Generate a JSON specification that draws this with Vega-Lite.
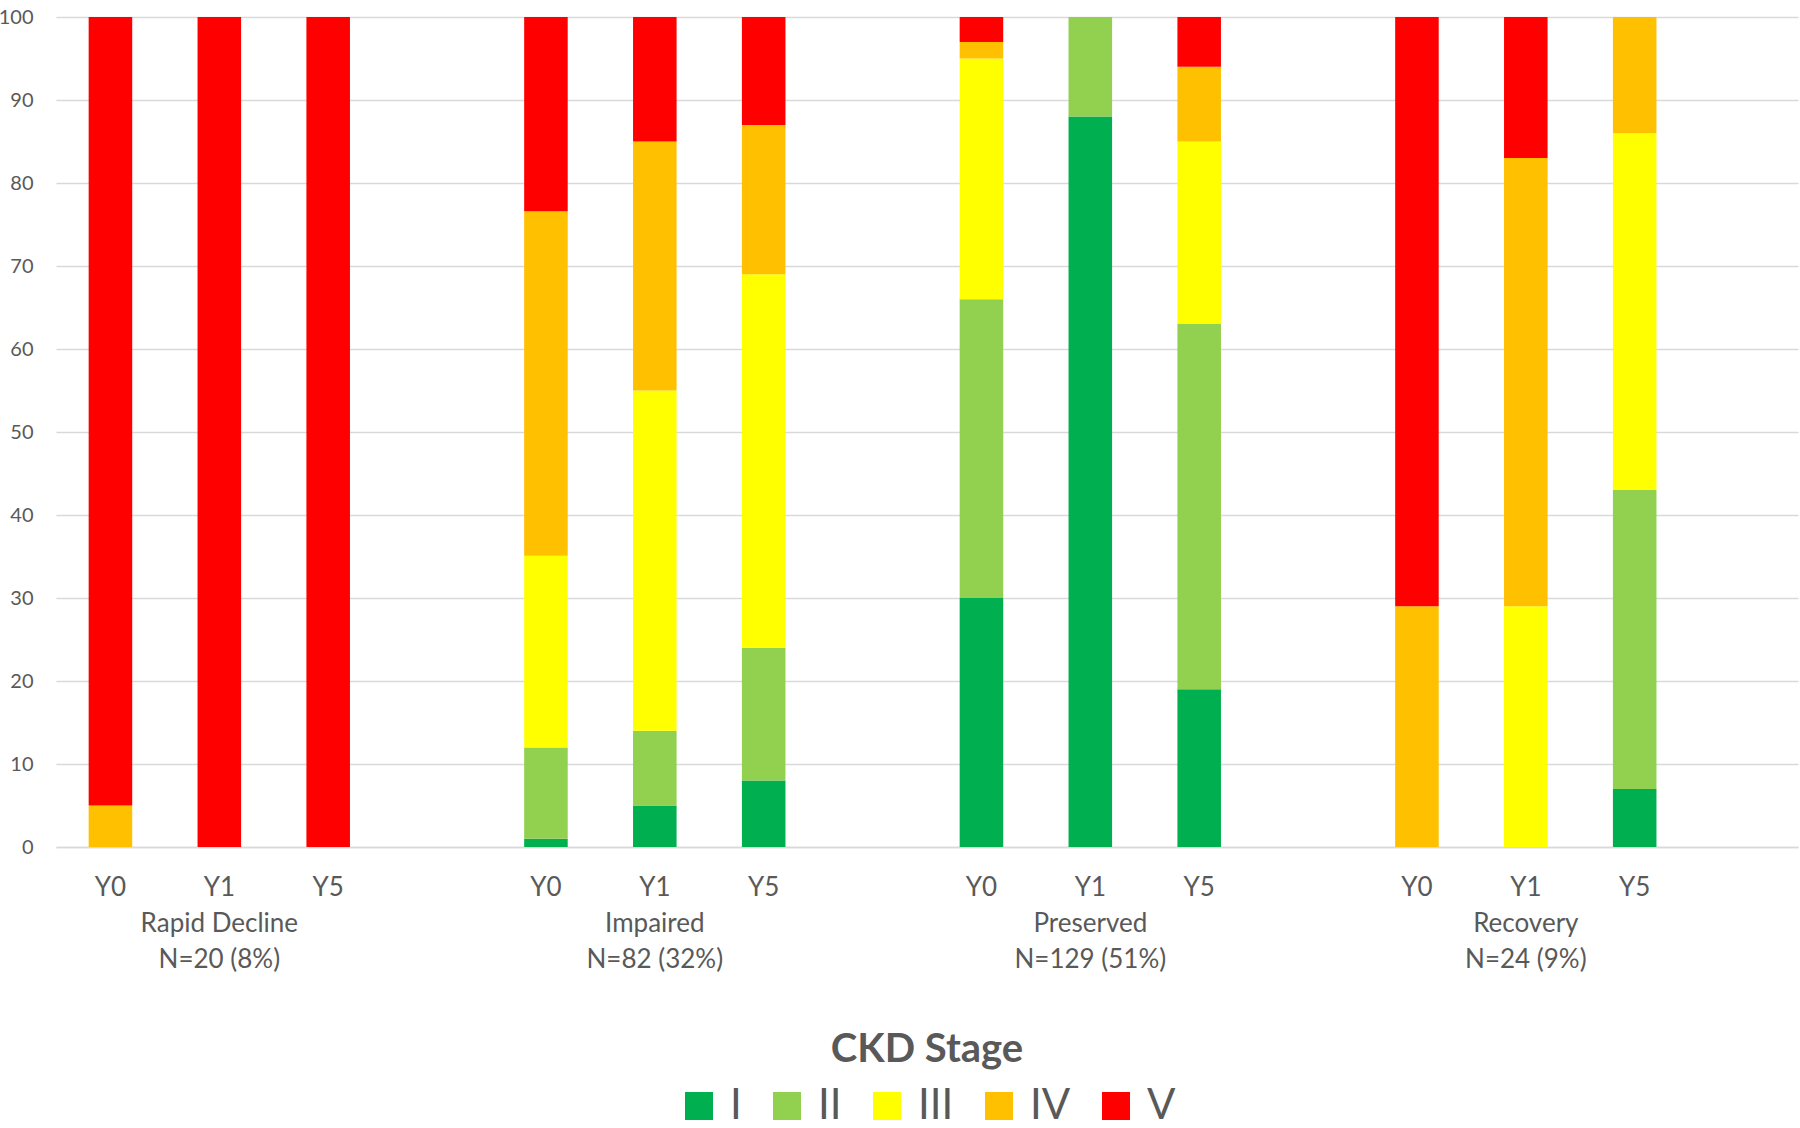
{
  "$schema": "https://vega.github.io/schema/vega-lite/v6.json",
  "width": 1742,
  "height": 830,
  "autosize": {"type": "none"},
  "padding": {"left": 56, "top": 17, "right": 2, "bottom": 281},
  "background": "white",
  "config": {
    "view": {"stroke": null},
    "font": "Lato",
    "axis": {"labelColor": "#595959", "labelFont": "Lato"},
    "legend": {"layout": {"bottom": {"anchor": "middle"}}}
  },
  "data": {
    "values": [
      {"slot": "1_Y0", "stage": "IV", "value": 5},
      {"slot": "1_Y0", "stage": "V", "value": 95},
      {"slot": "1_Y1", "stage": "V", "value": 100},
      {"slot": "1_Y5", "stage": "V", "value": 100},
      {"slot": "2_Y0", "stage": "I", "value": 1},
      {"slot": "2_Y0", "stage": "II", "value": 11},
      {"slot": "2_Y0", "stage": "III", "value": 23.1},
      {"slot": "2_Y0", "stage": "IV", "value": 41.5},
      {"slot": "2_Y0", "stage": "V", "value": 23.4},
      {"slot": "2_Y1", "stage": "I", "value": 5},
      {"slot": "2_Y1", "stage": "II", "value": 9},
      {"slot": "2_Y1", "stage": "III", "value": 41},
      {"slot": "2_Y1", "stage": "IV", "value": 30},
      {"slot": "2_Y1", "stage": "V", "value": 15},
      {"slot": "2_Y5", "stage": "I", "value": 8},
      {"slot": "2_Y5", "stage": "II", "value": 16},
      {"slot": "2_Y5", "stage": "III", "value": 45},
      {"slot": "2_Y5", "stage": "IV", "value": 18},
      {"slot": "2_Y5", "stage": "V", "value": 13},
      {"slot": "3_Y0", "stage": "I", "value": 30},
      {"slot": "3_Y0", "stage": "II", "value": 36},
      {"slot": "3_Y0", "stage": "III", "value": 29},
      {"slot": "3_Y0", "stage": "IV", "value": 2},
      {"slot": "3_Y0", "stage": "V", "value": 3},
      {"slot": "3_Y1", "stage": "I", "value": 88},
      {"slot": "3_Y1", "stage": "II", "value": 12},
      {"slot": "3_Y5", "stage": "I", "value": 19},
      {"slot": "3_Y5", "stage": "II", "value": 44},
      {"slot": "3_Y5", "stage": "III", "value": 22},
      {"slot": "3_Y5", "stage": "IV", "value": 9},
      {"slot": "3_Y5", "stage": "V", "value": 6},
      {"slot": "4_Y0", "stage": "IV", "value": 29},
      {"slot": "4_Y0", "stage": "V", "value": 71},
      {"slot": "4_Y1", "stage": "III", "value": 29},
      {"slot": "4_Y1", "stage": "IV", "value": 54},
      {"slot": "4_Y1", "stage": "V", "value": 17},
      {"slot": "4_Y5", "stage": "I", "value": 7},
      {"slot": "4_Y5", "stage": "II", "value": 36},
      {"slot": "4_Y5", "stage": "III", "value": 43},
      {"slot": "4_Y5", "stage": "IV", "value": 14}
    ]
  },
  "mark": {"type": "bar"},
  "encoding": {
    "x": {
      "field": "slot",
      "type": "nominal",
      "scale": {
        "domain": ["1_Y0", "1_Y1", "1_Y5", "1_gap", "2_Y0", "2_Y1", "2_Y5", "2_gap", "3_Y0", "3_Y1", "3_Y5", "3_gap", "4_Y0", "4_Y1", "4_Y5", "4_gap"],
        "paddingInner": 0.6,
        "paddingOuter": 0.3
      },
      "axis": {
        "title": null,
        "labelAngle": 0,
        "labelFontSize": 26,
        "labelPadding": 27,
        "labelLineHeight": 36,
        "labelBaseline": "top",
        "labelOverlap": false,
        "labelLimit": 400,
        "labelBound": false,
        "ticks": false,
        "domainColor": "#d9d9d9",
        "domainWidth": 1.5,
        "labelExpr": "datum.value == '1_Y1' ? ['Y1', 'Rapid Decline', 'N=20 (8%)'] : datum.value == '2_Y1' ? ['Y1', 'Impaired', 'N=82 (32%)'] : datum.value == '3_Y1' ? ['Y1', 'Preserved', 'N=129 (51%)'] : datum.value == '4_Y1' ? ['Y1', 'Recovery', 'N=24 (9%)'] : indexof(datum.value, 'gap') >= 0 ? '' : split(datum.value, '_')[1]"
      }
    },
    "y": {
      "field": "value",
      "type": "quantitative",
      "aggregate": "sum",
      "stack": "zero",
      "scale": {"domain": [0, 100], "nice": false},
      "axis": {
        "title": null,
        "values": [0, 10, 20, 30, 40, 50, 60, 70, 80, 90, 100],
        "labelFontSize": 20,
        "labelPadding": 23,
        "ticks": false,
        "domain": false,
        "gridColor": "#d9d9d9",
        "gridWidth": 1.5
      }
    },
    "color": {
      "field": "stage",
      "type": "nominal",
      "scale": {
        "domain": ["I", "II", "III", "IV", "V"],
        "range": ["#00B050", "#92D050", "#FFFF00", "#FFC000", "#FF0000"]
      },
      "legend": {
        "title": "CKD Stage",
        "orient": "bottom",
        "direction": "horizontal",
        "offset": 58,
        "titleFontSize": 40,
        "titleFontWeight": "bold",
        "titleColor": "#595959",
        "titleAnchor": "middle",
        "titleLimit": 1000,
        "titlePadding": 15,
        "labelFontSize": 42,
        "labelColor": "#595959",
        "labelOffset": 10,
        "symbolType": "square",
        "symbolSize": 784,
        "symbolStrokeWidth": 0,
        "symbolOpacity": 1,
        "columnPadding": 24
      }
    },
    "order": {"field": "stage", "sort": "ascending"}
  }
}
